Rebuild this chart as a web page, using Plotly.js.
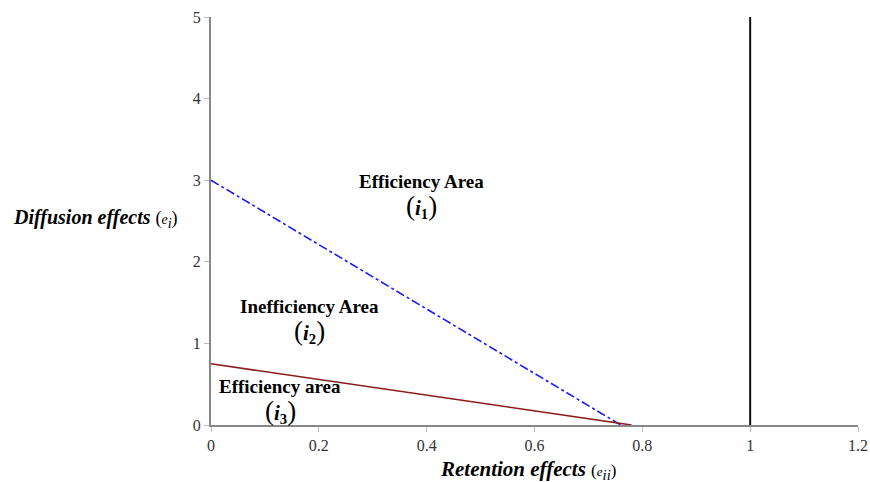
<!DOCTYPE html>
<html><head><meta charset="utf-8">
<script src="https://cdn.plot.ly/plotly-3.0.1.min.js"></script>
<style>body{margin:0;background:#fff}#c{width:870px;height:482px}</style>
</head><body><div id="c"></div>
<script>
// Frontier lines (retention effect x, diffusion effect y)
var blueX = [0, 0.76];
var blueY = [3, 0];
var redX = [0, 0.78];
var redY = [0.75, 0];
var vertX = [1, 1];
var vertY = [0, 5];
var xTicks = [0, 0.2, 0.4, 0.6, 0.8, 1, 1.2];
var xTickLabels = ['0', '0.2', '0.4', '0.6', '0.8', '1', '1.2'];
var yTicks = [0, 1, 2, 3, 4, 5];
var yTickLabels = ['0', '1', '2', '3', '4', '5'];
var areaLabels = ['Efficiency Area', 'Inefficiency Area', 'Efficiency area'];
var areaIdx = ['1', '2', '3'];
var areaPos = [[0.391, 2.98], [0.183, 1.45], [0.128, 0.47]];

var serif = 'Times New Roman, Liberation Serif, serif';
var traces = [
  {x: blueX, y: blueY, mode: 'lines', line: {color: '#1a1aff', width: 1.6, dash: 'dashdot'}, hoverinfo: 'skip'},
  {x: redX, y: redY, mode: 'lines', line: {color: '#8b1a1a', width: 1.6}, hoverinfo: 'skip'},
  {x: vertX, y: vertY, mode: 'lines', line: {color: '#111', width: 2}, hoverinfo: 'skip'}
];
var ann = [];
for (var k = 0; k < areaLabels.length; k++) {
  ann.push({x: areaPos[k][0], y: areaPos[k][1], xref: 'x', yref: 'y', showarrow: false,
    text: '<b>' + areaLabels[k] + '</b>', font: {family: serif, size: 19, color: '#000'}});
  ann.push({x: areaPos[k][0], y: areaPos[k][1] - 0.3, xref: 'x', yref: 'y', showarrow: false,
    text: '<span style="font-size:27px">(</span><b><i>i</i><sub>' + areaIdx[k] + '</sub></b><span style="font-size:27px">)</span>',
    font: {family: serif, size: 21, color: '#000'}});
}
ann.push({xref: 'paper', yref: 'paper', x: -0.309, y: 0.505, xanchor: 'left', showarrow: false,
  text: '<b><i>Diffusion effects</i></b> <span style="font-size:18px">(</span><i><span style="font-size:14px">e</span><sub>i</sub></i><span style="font-size:18px">)</span>',
  font: {family: serif, size: 20, color: '#000'}});
ann.push({xref: 'paper', yref: 'paper', x: 0.49, y: -0.073, yanchor: 'top', showarrow: false,
  text: '<b><i>Retention effects</i></b> <span style="font-size:17px">(</span><i><span style="font-size:13px">e</span><sub>ii</sub></i><span style="font-size:17px">)</span>',
  font: {family: serif, size: 21, color: '#000'}});

var layout = {
  width: 870, height: 482,
  margin: {l: 211, r: 12, t: 17, b: 57},
  paper_bgcolor: '#fff', plot_bgcolor: '#fff',
  showlegend: false,
  font: {family: serif, size: 14, color: '#333'},
  xaxis: {range: [0, 1.2], tickvals: xTicks, ticktext: xTickLabels, showgrid: false, zeroline: false,
    showline: true, linecolor: '#888', linewidth: 2, ticks: 'outside', ticklen: 5, tickcolor: '#bbb',
    tickfont: {family: serif, size: 16, color: '#333'}},
  yaxis: {range: [0, 5], tickvals: yTicks, ticktext: yTickLabels, showgrid: false, zeroline: false,
    showline: true, linecolor: '#888', linewidth: 2, ticks: 'outside', ticklen: 5, tickcolor: '#bbb',
    tickfont: {family: serif, size: 16, color: '#333'}},
  annotations: ann
};
Plotly.newPlot('c', traces, layout, {displayModeBar: false, staticPlot: true});
</script></body></html>
